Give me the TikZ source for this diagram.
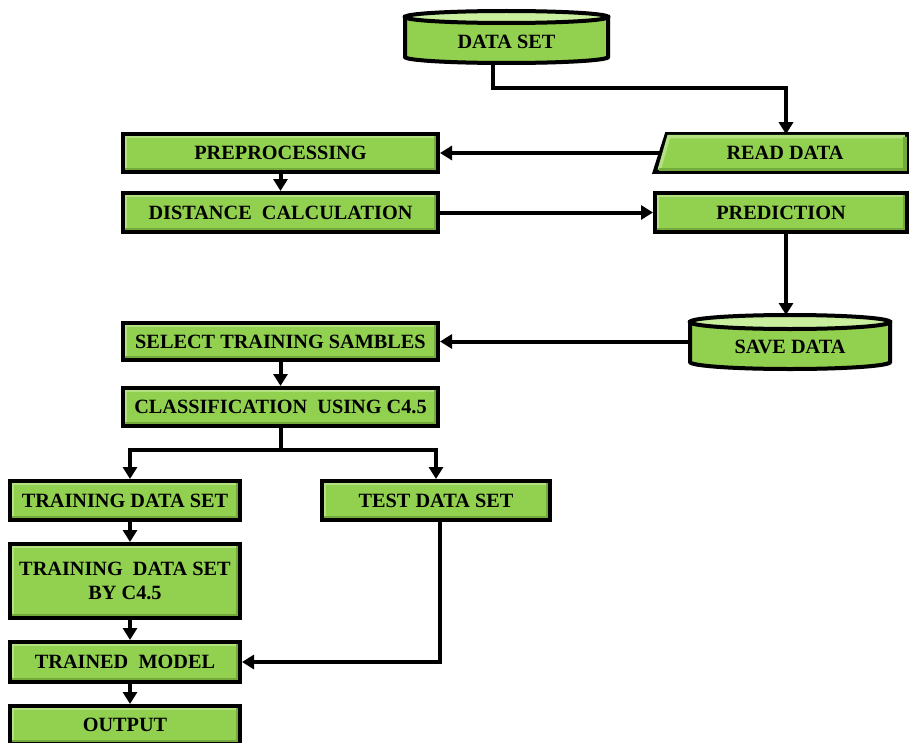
\documentclass[tikz,border=0pt]{standalone}
\usepackage{fontspec}
\setmainfont{Liberation Serif}
\usetikzlibrary{arrows.meta,shadows}
\definecolor{boxgreen}{HTML}{92D050}
\definecolor{litegreen}{HTML}{B4E283}
\definecolor{darkgreen}{HTML}{74A93C}
\definecolor{topgreen}{HTML}{C8EE9E}
\tikzset{
  txt/.style={font=\bfseries\fontsize{15.2}{18}\selectfont},
  bevel/.style={path picture={
      \draw[litegreen, line width=2.5pt]
        ([shift={(1.8pt,1.8pt)}]path picture bounding box.south west) --
        ([shift={(1.8pt,-1.8pt)}]path picture bounding box.north west) --
        ([shift={(-1.8pt,-1.8pt)}]path picture bounding box.north east);
      \draw[darkgreen, line width=2.5pt]
        ([shift={(-1.8pt,-1.8pt)}]path picture bounding box.north east) --
        ([shift={(-1.8pt,1.8pt)}]path picture bounding box.south east) --
        ([shift={(1.8pt,1.8pt)}]path picture bounding box.south west);}},
  box/.style={rectangle, draw=black, line width=3pt, fill=boxgreen,
    inner sep=0pt, align=center, txt, bevel,
    drop shadow={opacity=0.3, shadow xshift=1.5pt, shadow yshift=-1.5pt}},
  ghost/.style={rectangle, draw=none, inner sep=0pt, align=center, txt},
  outl/.style={draw=black, line width=3pt},
  conn/.style={draw=black, line width=3pt},
  arr/.style={conn, -{Triangle[length=9pt,width=10.5pt]}}
}
\begin{document}
\begin{tikzpicture}[x=0.75pt,y=-0.75pt]
\useasboundingbox (0,0) rectangle (909,742);

% ---- DATA SET cylinder
\fill[black!25,opacity=0.6] (407,19) -- (407,59) arc[start angle=180,end angle=0,x radius=101.5,y radius=6] -- (610,19) -- cycle;
\path[outl, fill=boxgreen] (405,17) -- (405,57) arc[start angle=180,end angle=0,x radius=101.5,y radius=6] -- (608,17) -- cycle;
\path[outl, fill=topgreen] (506.5,17) ellipse[x radius=101.5, y radius=6];
\node[ghost, minimum width=152.25pt, minimum height=30pt] (ds) at (506.5,42) {DATA SET};

% ---- READ DATA (slanted)
\node[ghost, minimum width=189pt, minimum height=27.75pt] (rd) at (781,153) {};
\fill[black!25,opacity=0.6] ([shift={(10.5pt,-1.5pt)}]rd.north west) -- ([shift={(1.5pt,-1.5pt)}]rd.north east) -- ([shift={(1.5pt,-1.5pt)}]rd.south east) -- ([shift={(1.5pt,-1.5pt)}]rd.south west) -- cycle;
\path[outl, fill=boxgreen] ([xshift=9pt]rd.north west) -- (rd.north east) -- (rd.south east) -- (rd.south west) -- cycle;
\draw[litegreen, line width=2.5pt] ([shift={(3.5pt,1.8pt)}]rd.south west) -- ([shift={(10.5pt,-1.8pt)}]rd.north west) -- ([shift={(-1.8pt,-1.8pt)}]rd.north east);
\draw[darkgreen, line width=2.5pt] ([shift={(-1.8pt,-1.8pt)}]rd.north east) -- ([shift={(-1.8pt,1.8pt)}]rd.south east) -- ([shift={(3.5pt,1.8pt)}]rd.south west);
\node[ghost] at ([xshift=3pt]rd.center) {READ DATA};

% ---- rectangles
\node[box, minimum width=236.25pt, minimum height=28.5pt] (pp) at (280.5,153) {PREPROCESSING};
\node[box, minimum width=236.25pt, minimum height=29.25pt] (dc) at (280.5,212.5) {DISTANCE\ \ CALCULATION};
\node[box, minimum width=189pt, minimum height=29.25pt] (pr) at (781,212.5) {PREDICTION};
\node[box, minimum width=236.25pt, minimum height=27.75pt] (sel) at (280.5,341.5) {SELECT\ TRAINING\ SAMBLES};
\node[box, minimum width=236.25pt, minimum height=28.5pt] (cls) at (280.5,407) {CLASSIFICATION\ \ USING\ C4.5};
\node[box, minimum width=172.5pt, minimum height=29.25pt] (tr) at (125,500.5) {TRAINING\ DATA SET};
\node[box, minimum width=171pt, minimum height=29.25pt] (te) at (436,500.5) {TEST DATA SET};
\node[box, minimum width=172.5pt, minimum height=55.5pt] (bc) at (125,581) {TRAINING\ \ DATA SET\\BY C4.5};
\node[box, minimum width=172.5pt, minimum height=30pt] (tm) at (125,662) {TRAINED\ \ MODEL};
\node[box, minimum width=172.5pt, minimum height=28.5pt] (out) at (125,725) {OUTPUT};

% ---- SAVE DATA cylinder
\fill[black!25,opacity=0.6] (692,324) -- (692,364) arc[start angle=180,end angle=0,x radius=100,y radius=7] -- (892,324) -- cycle;
\path[outl, fill=boxgreen] (690,322) -- (690,362) arc[start angle=180,end angle=0,x radius=100,y radius=7] -- (890,322) -- cycle;
\path[outl, fill=topgreen] (790,322) ellipse[x radius=100, y radius=7];
\node[ghost, minimum width=150pt, minimum height=32pt] (sv) at (790,347) {SAVE DATA};

% ---- connectors
\coordinate (c1) at (786,88);
\draw[arr] ([xshift=-10pt]ds.south) |- (c1) -- (c1 |- rd.north);
\draw[arr] ([xshift=4.5pt]rd.west) -- (pp.east);
\draw[arr] (pp.south) -- (dc.north);
\draw[arr] (dc.east) -- (pr.west);
\coordinate (c2) at (786,315);
\draw[arr] (pr.south -| c2) -- (c2);
\draw[arr] (sv.west |- sel.east) -- (sel.east);
\draw[arr] (sel.south) -- (cls.north);
\coordinate (sp) at (280.5,450);
\draw[conn] (cls.south) -- (sp);
\draw[arr] (sp) -| ([xshift=3.75pt]tr.north);
\draw[arr] (sp) -| (te.north);
\draw[arr] ([xshift=3.75pt]tr.south) -- ([xshift=3.75pt]bc.north);
\draw[arr] ([xshift=3.75pt]bc.south) -- ([xshift=3.75pt]tm.north);
\draw[arr] ([xshift=3.75pt]tm.south) -- ([xshift=3.75pt]out.north);
\draw[arr] ([xshift=3pt]te.south) |- (tm.east);
\end{tikzpicture}
\end{document}
